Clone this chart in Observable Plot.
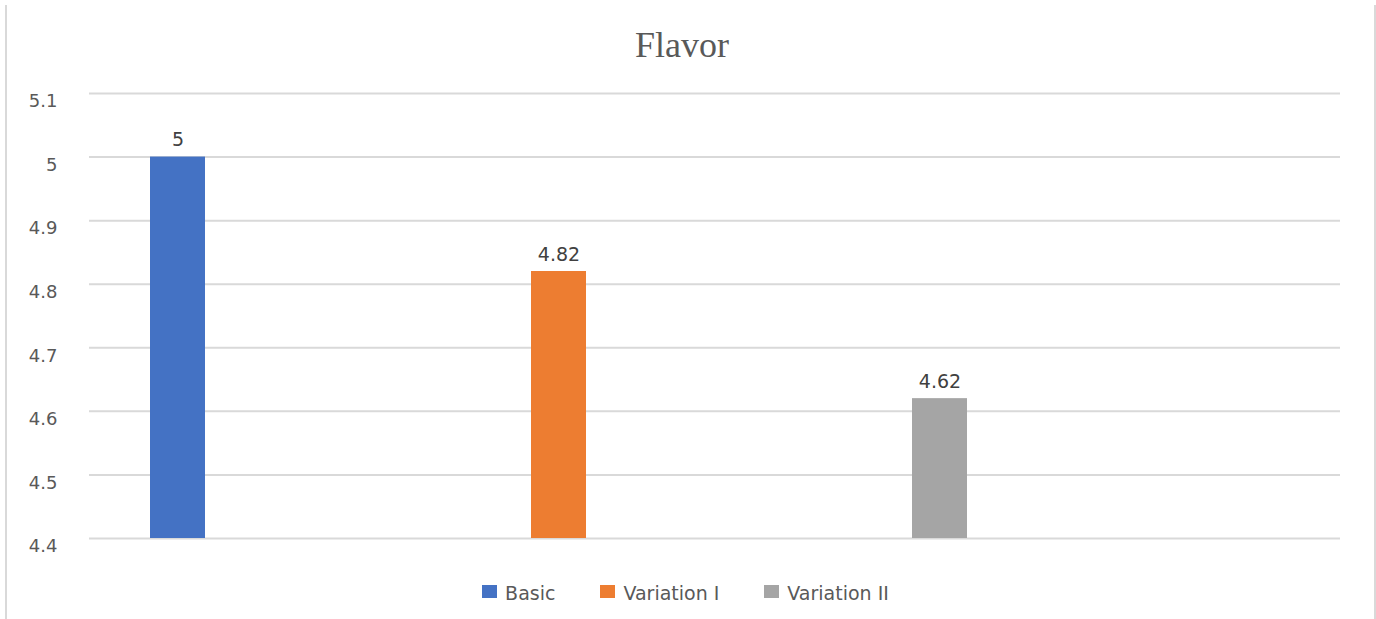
<!DOCTYPE html>
<html>
<head>
<meta charset="utf-8">
<script src="https://cdn.jsdelivr.net/npm/d3@7"></script>
<script src="https://cdn.jsdelivr.net/npm/@observablehq/plot@0.6"></script>
<style>
  html, body { margin: 0; padding: 0; background: #fff; }
  #wrap { position: relative; width: 1376px; height: 619px; overflow: hidden; background: #fff; }
  #frame { position: absolute; left: 5px; top: 5px; width: 1367px; height: 700px;
           border-left: 2px solid #d9d9d9; border-right: 2px solid #d9d9d9; }
  #title { position: absolute; top: 24px; left: 0; width: 1364px; text-align: center;
           font-family: "Liberation Serif", "Times New Roman", serif; font-size: 36px; color: #595959; }
  #chart { position: absolute; left: 0; top: 0; }
  #legend { position: absolute; top: 582px; left: 0; width: 1371px; display: flex; justify-content: center;
            gap: 45px; font-family: "DejaVu Sans", sans-serif; font-size: 19px; color: #595959; }
  .item { display: flex; align-items: center; gap: 8px; }
  .sw { width: 15px; height: 13px; display: inline-block; position: relative; top: -2px; }
</style>
</head>
<body>
<div id="wrap">
  <div id="frame"></div>
  <div id="title"></div>
  <div id="chart"></div>
  <div id="legend"></div>
</div>
<script>
const title = "Flavor";
const categories = ["Basic", "Variation I", "Variation II"];
const values = [5, 4.82, 4.62];
const labels = ["5", "4.82", "4.62"];
const colors = ["#4472C4", "#ED7D31", "#A5A5A5"];
const yTicks = [4.4, 4.5, 4.6, 4.7, 4.8, 4.9, 5, 5.1];
const yTickLabels = ["4.4", "4.5", "4.6", "4.7", "4.8", "4.9", "5", "5.1"];

const data = categories.map((c, i) => ({cat: c, value: values[i], label: labels[i]}));

document.getElementById("title").textContent = title;

const chart = Plot.plot({
  width: 1376,
  height: 560,
  marginLeft: 89,
  marginRight: 36,
  marginTop: 93,
  marginBottom: 22,
  style: {fontFamily: "DejaVu Sans, sans-serif", fontSize: "18px", color: "#595959", background: "transparent"},
  x: {type: "band", domain: categories, range: [149, 968], paddingInner: 0.856, paddingOuter: 0, axis: null},
  y: {domain: [4.4, 5.1], axis: null},
  color: {domain: categories, range: colors},
  marks: [
    Plot.ruleY(yTicks, {stroke: "#d9d9d9", strokeWidth: 2, strokeOpacity: 1}),
    Plot.barY(data, {x: "cat", y1: 4.4, y2: "value", fill: "cat"}),
    Plot.text(data, {x: "cat", y: "value", text: "label", dy: -17, fill: "#404040", fontSize: 19}),
    Plot.axisY(yTicks, {tickSize: 0, tickPadding: 32, dy: 8, label: null, tickFormat: (d) => yTickLabels[yTicks.indexOf(d)], fill: "#595959", fontSize: 18})
  ]
});
document.getElementById("chart").appendChild(chart);

const legend = document.getElementById("legend");
categories.forEach((c, i) => {
  const item = document.createElement("div");
  item.className = "item";
  const sw = document.createElement("span");
  sw.className = "sw";
  sw.style.background = colors[i];
  const t = document.createElement("span");
  t.textContent = c;
  item.appendChild(sw);
  item.appendChild(t);
  legend.appendChild(item);
});
</script>
</body>
</html>
